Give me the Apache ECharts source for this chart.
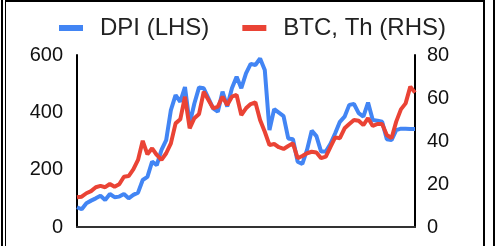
<!DOCTYPE html>
<html>
<head>
<meta charset="utf-8">
<script src="https://cdn.jsdelivr.net/npm/echarts@6/dist/echarts.min.js"></script>
<style>
html, body { margin: 0; padding: 0; background: #fff; }
#main { width: 498px; height: 246px; }
</style>
</head>
<body>
<div id="main"></div>
<script>
var dpi = [69, 62, 83, 92, 100, 109, 94, 115, 104, 106, 115, 100, 112, 120, 164, 175, 228, 216, 269, 303,
  408, 460, 437, 488, 360, 431, 487, 484, 449, 414, 402, 472, 420, 484, 524, 484, 536, 569, 565, 588,
  548, 338, 411, 399, 387, 309, 306, 228, 220, 269, 336, 317, 263, 263, 290, 327, 367, 385, 426, 429,
  397, 385, 434, 373, 371, 367, 306, 303, 338, 343, 343, 342, 342];
var btc = [13.8, 14.1, 15.7, 16.7, 18.5, 19.1, 18.5, 20, 18.7, 19.9, 23.4, 23.7, 26.8, 31.2, 40.1, 33.8, 36.6, 33.5, 31.2, 34.3,
  38.9, 48.2, 50.1, 60.6, 45.9, 50.6, 52.6, 62.9, 59.1, 55.2, 56, 60.6, 56.7, 60.6, 61.4, 52.1, 55.2, 57.2, 58, 49.8,
  44.3, 38.1, 38.6, 37.1, 36.3, 37.7, 38.9, 32, 33, 34.3, 35, 34.7, 32, 32.7, 37.3, 41.7, 41.3, 45.9, 47.9, 49.8,
  49.4, 47.4, 50.6, 47, 47.9, 47.9, 42.8, 41.3, 49, 54.7, 57.5, 65.3, 62.5];
var periods = dpi.map(function (v, i) { return String(i + 1); });
var leftTicks = [0, 200, 400, 600];
var rightTicks = [0, 20, 40, 60, 80];

var font = 'Liberation Sans, Arial, sans-serif';
var myChart = echarts.init(document.getElementById('main'));

myChart.setOption({
  animation: false,
  textStyle: { fontFamily: font },
  legend: {
    top: 11,
    left: 54,
    itemWidth: 24,
    itemHeight: 6,
    itemGap: 33,
    icon: 'rect',
    textStyle: { fontSize: 24, color: '#222', fontFamily: font, padding: [0, 0, 0, 12] },
    data: ['DPI (LHS)', 'BTC, Th (RHS)']
  },
  grid: { left: 77, right: 83, top: 55, bottom: 19 },
  xAxis: {
    type: 'category',
    data: periods,
    boundaryGap: false,
    axisLine: { lineStyle: { color: '#333', width: 2 } },
    axisTick: { show: false },
    axisLabel: { show: false },
    splitLine: { show: false }
  },
  yAxis: [
    {
      type: 'value', min: leftTicks[0], max: leftTicks[leftTicks.length - 1], interval: 200,
      axisLine: { show: true, lineStyle: { color: '#000', width: 2 } },
      axisTick: { show: false },
      splitLine: { show: false },
      axisLabel: { fontSize: 20, color: '#111', margin: 14, fontFamily: font }
    },
    {
      type: 'value', min: rightTicks[0], max: rightTicks[rightTicks.length - 1], interval: 20,
      position: 'right',
      axisLine: { show: true, lineStyle: { color: '#000', width: 2 } },
      axisTick: { show: false },
      splitLine: { show: false },
      axisLabel: { fontSize: 20, color: '#111', margin: 12, fontFamily: font }
    }
  ],
  series: [
    {
      name: 'DPI (LHS)', type: 'line', yAxisIndex: 0, data: dpi,
      showSymbol: false, symbol: 'none',
      lineStyle: { color: '#4285F4', width: 4 }, itemStyle: { color: '#4285F4' }
    },
    {
      name: 'BTC, Th (RHS)', type: 'line', yAxisIndex: 1, data: btc,
      showSymbol: false, symbol: 'none',
      lineStyle: { color: '#EA4335', width: 4 }, itemStyle: { color: '#EA4335' }
    }
  ],
  graphic: [
    { type: 'rect', shape: { x: 1, y: 0, width: 2, height: 246 }, style: { fill: '#000' } },
    { type: 'rect', shape: { x: 5, y: 0, width: 1, height: 246 }, style: { fill: '#000' } },
    { type: 'rect', shape: { x: 5, y: 0, width: 480, height: 2 }, style: { fill: '#000' } },
    { type: 'rect', shape: { x: 483, y: 0, width: 2, height: 246 }, style: { fill: '#000' } },
    { type: 'rect', shape: { x: 493, y: 0, width: 2, height: 246 }, style: { fill: '#000' } }
  ]
});
</script>
</body>
</html>
